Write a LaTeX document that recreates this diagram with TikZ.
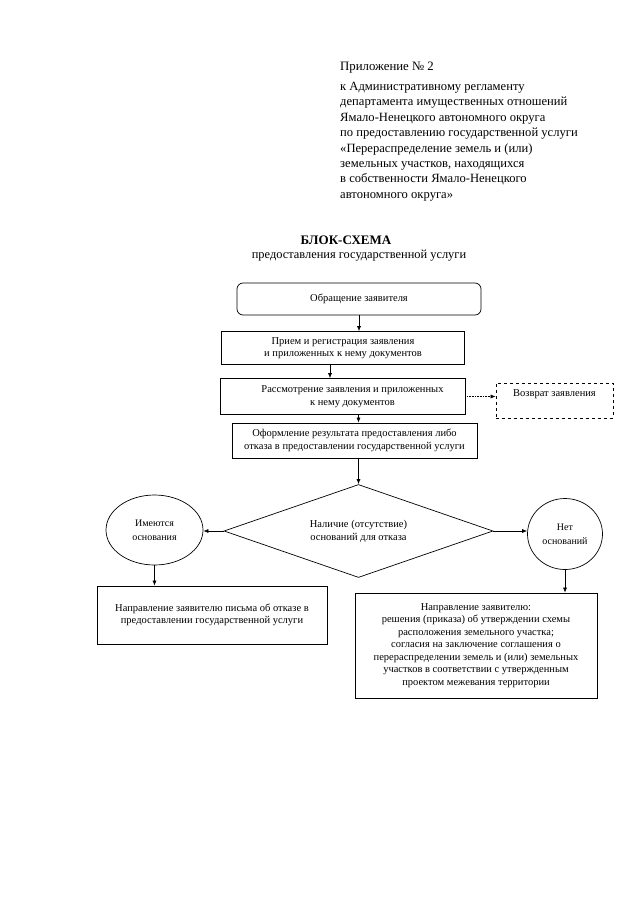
\documentclass[tikz,border=0pt]{standalone}
\usepackage{fontspec}
\setmainfont{Liberation Serif}
\usetikzlibrary{shapes.geometric,arrows.meta}

\begin{document}
\begin{tikzpicture}[x=1pt,y=-1pt,
  every node/.style={inner sep=0pt},
  stepbox/.style={draw,line width=0.7pt,align=center,
    font=\fontsize{10.5}{12.5}\selectfont},
  choice/.style={draw,line width=0.7pt,ellipse,align=center,
    font=\fontsize{10}{14}\selectfont},
  link/.style={line width=0.6pt,-{Latex[length=5pt,width=4pt]}}]
  \useasboundingbox (0,0) rectangle (640,905);

  \node[anchor=west,font=\fontsize{12.8}{15.5}\selectfont] (appx) at (340,68) {Приложение №~2};
  \node[anchor=north west,align=left,font=\fontsize{12.6}{15.4}\selectfont] (reg) at (340,82)
    {к Административному регламенту\\
     департамента имущественных отношений\\
     Ямало-Ненецкого автономного округа\\
     по предоставлению государственной услуги\\
     «Перераспределение земель и (или)\\
     земельных участков, находящихся\\
     в собственности Ямало-Ненецкого\\
     автономного округа»};

  \node[font=\fontsize{13}{15}\selectfont\bfseries] (title) at (346,240) {БЛОК-СХЕМА};
  \node[font=\fontsize{12.4}{15}\selectfont] (subtitle) at (359,256) {предоставления государственной услуги};

  \node[stepbox,rounded corners=6pt,minimum width=244pt,minimum height=32pt] (b1) at (359,299)
    {Обращение заявителя};
  \node[stepbox,minimum width=243pt,minimum height=33pt] (b2) at (343,348)
    {Прием и регистрация заявления\\и приложенных к нему документов};
  \node[stepbox,minimum width=245pt,minimum height=36pt] (b3) at (342.5,396.5)
    {\hspace*{20pt}Рассмотрение заявления и приложенных\\\hspace*{20pt}к нему документов};
  \node[stepbox,minimum width=245pt,minimum height=35pt] (b4) at (354.5,440.5)
    {Оформление результата предоставления либо\\отказа в предоставлении государственной услуги};
  \node[stepbox,dashed,minimum width=117pt,minimum height=35pt] (ret) at (554.5,400.5)
    {\raisebox{0pt}[0pt][8pt]{Возврат заявления}};

  \node[draw,line width=0.7pt,diamond,aspect=2.9,minimum width=269pt,minimum height=93pt,
    align=center,font=\fontsize{10.5}{13}\selectfont] (dia) at (358.5,531)
    {Наличие (отсутствие)\\оснований для отказа};
  \node[choice,minimum width=97pt,minimum height=70pt] (yes) at (154.5,530) {Имеются\\основания};
  \node[choice,minimum width=75pt,minimum height=71pt] (no) at (565,534) {Нет\\оснований};

  \node[stepbox,minimum width=230pt,minimum height=58pt] (b5) at (212,615)
    {Направление заявителю письма об отказе в\\предоставлении государственной услуги};
  \node[stepbox,minimum width=242pt,minimum height=105pt] (b6) at (476,645.5)
    {Направление заявителю:\\
     решения (приказа) об утверждении схемы\\
     расположения земельного участка;\\
     согласия на заключение соглашения о\\
     перераспределении земель и (или) земельных\\
     участков в соответствии с утвержденным\\
     проектом межевания территории};

  \draw[link] (b1.south) -- (b1.south |- b2.north);
  \draw[link] ([xshift=-13pt]b2.south) -- ([xshift=-13pt]b2.south |- b3.north);
  \draw[link] ([xshift=16pt]b3.south) -- ([xshift=16pt]b3.south |- b4.north);
  \draw[link,densely dotted] (b3.east) -- (b3.east -| ret.west);
  \draw[link] (b4.south -| dia.north) -- (dia.north);
  \draw[link] (dia.west) -- (dia.west -| yes.east);
  \draw[link] (dia.east) -- (dia.east -| no.west);
  \draw[link] (yes.south) -- (yes.south |- b5.north);
  \draw[link] (no.south) -- (no.south |- b6.north);
\end{tikzpicture}
\end{document}
